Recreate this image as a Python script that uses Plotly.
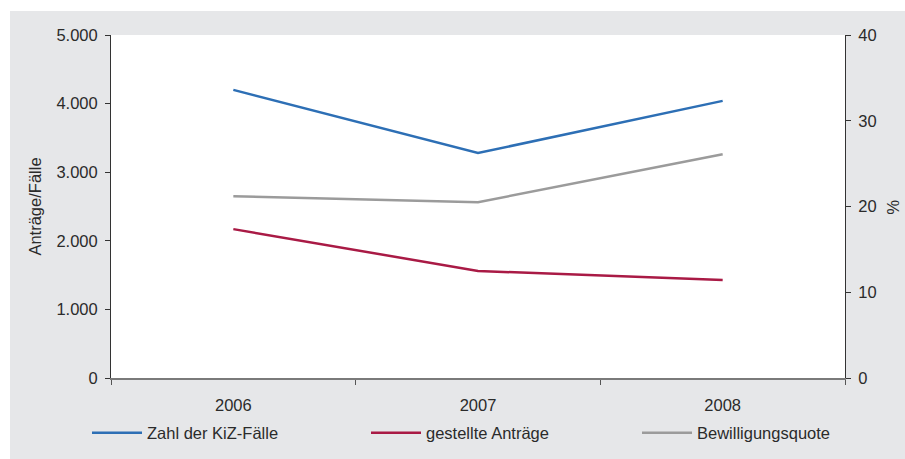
import plotly.graph_objects as go

years = ["2006", "2007", "2008"]
kiz_faelle = [4200, 3280, 4040]
gestellte_antraege = [2170, 1560, 1430]
bewilligungsquote = [21.2, 20.5, 26.1]

left_ticks = [0, 1000, 2000, 3000, 4000, 5000]
left_labels = ["0", "1.000", "2.000", "3.000", "4.000", "5.000"]
right_ticks = [0, 10, 20, 30, 40]

FONT = "Liberation Sans, Arial, sans-serif"
TXT = "#2b2b2b"
BG = "#e6e7e9"
FS = 16.5

fig = go.Figure()
fig.add_trace(go.Scatter(x=years, y=kiz_faelle, mode="lines", name="Zahl der KiZ-Fälle",
                         line=dict(color="#2d6fb5", width=2.5), legend="legend"))
fig.add_trace(go.Scatter(x=years, y=gestellte_antraege, mode="lines", name="gestellte Anträge",
                         line=dict(color="#a91a45", width=2.5), legend="legend2"))
fig.add_trace(go.Scatter(x=years, y=bewilligungsquote, mode="lines", name="Bewilligungsquote",
                         line=dict(color="#9b9b9b", width=2.5), yaxis="y2", legend="legend3"))

W, H = 905, 459
L, R, T, B = 111, 60, 35, 81
pw, ph = W - L - R, H - T - B

def px(x):
    return (x - L) / pw

def py(y):
    return (H - B - y) / ph

def leg(xpix):
    return dict(orientation="h", x=px(xpix), xanchor="left", y=py(433), yanchor="middle",
                bgcolor="rgba(0,0,0,0)", font=dict(size=FS, color=TXT),
                itemwidth=50, tracegroupgap=0)

fig.update_layout(
    width=W, height=H,
    margin=dict(l=L, r=R, t=T, b=B, autoexpand=False),
    paper_bgcolor=BG, plot_bgcolor="white",
    font=dict(family=FONT, size=FS, color=TXT),
    showlegend=True,
    legend=leg(87), legend2=leg(366), legend3=leg(637),
    xaxis=dict(type="category", range=[-0.5, 2.5], tickson="boundaries",
               ticks="outside", ticklen=5, tickcolor="#555", showline=True,
               linecolor="#7a7a7a", linewidth=1.5, showgrid=False, zeroline=False,
               ticklabelstandoff=11, tickfont=dict(size=FS, color=TXT), automargin=False),
    yaxis=dict(range=[0, 5000], tickvals=left_ticks, ticktext=left_labels,
               ticks="outside", ticklen=5, tickcolor="#333", showline=True,
               linecolor="#333", linewidth=1, showgrid=False, zeroline=False,
               ticklabelstandoff=4, automargin=False,
               title=dict(text="Anträge/Fälle", font=dict(size=FS, color=TXT), standoff=10),
               tickfont=dict(size=FS, color=TXT)),
    yaxis2=dict(range=[0, 40], tickvals=right_ticks, overlaying="y", side="right",
                ticks="outside", ticklen=5, tickcolor="#333", showline=True,
                linecolor="#333", linewidth=1, showgrid=False, zeroline=False,
                ticklabelstandoff=4, automargin=False, tickfont=dict(size=FS, color=TXT)),
    shapes=[
        dict(type="rect", xref="paper", yref="paper", x0=px(0), x1=px(10), y0=py(H), y1=py(0),
             fillcolor="white", line=dict(width=0), layer="below"),
        dict(type="rect", xref="paper", yref="paper", x0=px(0), x1=px(W), y0=py(11), y1=py(0),
             fillcolor="white", line=dict(width=0), layer="below"),
    ],
    annotations=[
        dict(text="%", xref="paper", yref="paper", x=px(893), y=py(207), showarrow=False,
             textangle=90, font=dict(size=FS, color=TXT), xanchor="center", yanchor="middle"),
    ],
)

fig.write_html("out.html", config={"displayModeBar": False},
               post_script="document.body.style.margin='0';document.body.style.overflow='hidden';")
